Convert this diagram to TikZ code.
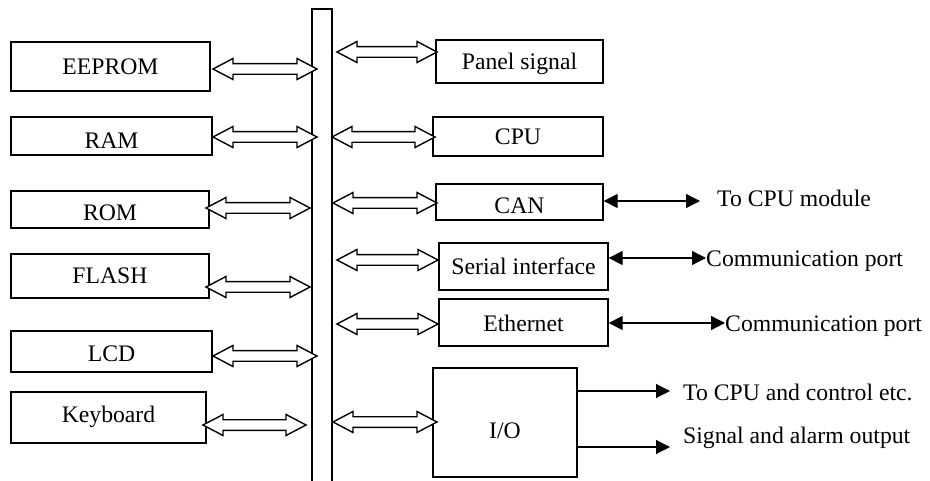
\documentclass[tikz,border=0pt]{standalone}
\usepackage{fontspec}
\setmainfont{Liberation Serif}
\usetikzlibrary{arrows.meta,calc}
\tikzset{
  txt/.style={font=\fontsize{23.7}{28}\selectfont, text height=15.7pt, text depth=0pt},
  box/.style={txt, draw, line width=1.3pt, inner sep=0pt},
  lbl/.style={txt, inner sep=0pt, anchor=west},
  hollow/.style={draw, fill=white, line width=1.4pt, line join=miter},
  sig/.style={line width=1.3pt, -{Triangle[length=14pt,width=14pt]}},
  sigboth/.style={line width=1.3pt, {Triangle[length=14pt,width=14pt]}-{Triangle[length=14pt,width=14pt]}},
  busline/.style={line width=1.8pt},
}
\newcommand\hollowarrow[2]{%
  \path[hollow] let \p1=(#1), \p2=(#2) in
    (\x1,\y1) -- (\x1+20pt,\y1+10.5pt) -- (\x1+20pt,\y1+5.3pt) -- (\x2-20pt,\y1+5.3pt)
    -- (\x2-20pt,\y1+10.5pt) -- (\x2,\y1) -- (\x2-20pt,\y1-10.5pt) -- (\x2-20pt,\y1-5.3pt)
    -- (\x1+20pt,\y1-5.3pt) -- (\x1+20pt,\y1-10.5pt) -- cycle;}
\begin{document}
\begin{tikzpicture}[x=1pt,y=-1pt]
\useasboundingbox (0,0) rectangle (930,481);

% bus
\coordinate (busBL) at (312,482);
\coordinate (busTL) at (312,9);
\coordinate (busTR) at (332,9);
\coordinate (busBR) at (332,482);
\draw[busline] (busBL) -- (busTL) -- (busTR) -- (busBR);

% left boxes
\node[box, minimum width=199pt, minimum height=49pt] (eeprom) at (110.5,66.5) {EEPROM};
\node[box, minimum width=201pt, minimum height=38pt] (ram) at (111.5,136) {\raisebox{-5pt}{RAM}};
\node[box, minimum width=198pt, minimum height=37pt] (rom) at (110,209.5) {\raisebox{-3pt}{ROM}};
\node[box, minimum width=198pt, minimum height=44pt] (flash) at (110,276) {FLASH};
\node[box, minimum width=201pt, minimum height=41pt] (lcd) at (111.5,351.5) {\raisebox{-2pt}{LCD}};
\node[box, minimum width=195pt, minimum height=51pt] (kbd) at (108.5,417.5) {\raisebox{3pt}{Keyboard}};

% right boxes
\node[box, minimum width=167pt, minimum height=43pt] (panel) at (519.5,61.5) {Panel signal};
\node[box, minimum width=170pt, minimum height=39pt] (cpu) at (518,136.5) {CPU};
\node[box, minimum width=167pt, minimum height=36pt] (can) at (519.5,202) {\raisebox{-4pt}{CAN}};
\node[box, minimum width=169pt, minimum height=47pt] (serial) at (523.5,266.5) {Serial interface};
\node[box, minimum width=169pt, minimum height=47pt] (eth) at (523.5,322.5) {\raisebox{-1pt}{Ethernet}};
\node[box, minimum width=144pt, minimum height=109pt] (io) at (505,422.5) {\raisebox{-8.5pt}{I/O}};

% hollow bus arrows, left side
\coordinate (h1a) at (213,69);  \coordinate (h1b) at (317,69);
\coordinate (h2a) at (213,137); \coordinate (h2b) at (317,137);
\coordinate (h3a) at (206,208); \coordinate (h3b) at (310,208);
\coordinate (h4a) at (206,287); \coordinate (h4b) at (310,287);
\coordinate (h5a) at (213,356); \coordinate (h5b) at (317,356);
\coordinate (h6a) at (203,425); \coordinate (h6b) at (306,425);
\hollowarrow{h1a}{h1b}
\hollowarrow{h2a}{h2b}
\hollowarrow{h3a}{h3b}
\hollowarrow{h4a}{h4b}
\hollowarrow{h5a}{h5b}
\hollowarrow{h6a}{h6b}

% hollow bus arrows, right side
\coordinate (r1a) at (337,52);  \coordinate (r1b) at (437,52);
\coordinate (r2a) at (332,137); \coordinate (r2b) at (435,137);
\coordinate (r3a) at (333,203); \coordinate (r3b) at (437,203);
\coordinate (r4a) at (337,260); \coordinate (r4b) at (438,260);
\coordinate (r5a) at (337,324); \coordinate (r5b) at (438,324);
\coordinate (r6a) at (333,422); \coordinate (r6b) at (437,422);
\hollowarrow{r1a}{r1b}
\hollowarrow{r2a}{r2b}
\hollowarrow{r3a}{r3b}
\hollowarrow{r4a}{r4b}
\hollowarrow{r5a}{r5b}
\hollowarrow{r6a}{r6b}

% external signals
\coordinate (canT) at (700,201);
\coordinate (serT) at (706,258);
\coordinate (ethT) at (725,323);
\coordinate (io1T) at (670,391);
\coordinate (io2T) at (670,447);
\draw[sigboth] (can.east |- canT) -- (canT);
\draw[sigboth] (serial.east |- serT) -- (serT);
\draw[sigboth] (eth.east |- ethT) -- (ethT);
\draw[sig] (io.east |- io1T) -- (io1T);
\draw[sig] (io.east |- io2T) -- (io2T);

\node[lbl] (lcan) at (717,198.5) {To CPU module};
\node[lbl] (lser) at (706,259) {Communication port};
\node[lbl] (leth) at (725,324) {Communication port};
\node[lbl] (lio1) at (683,392.5) {To CPU and control etc.};
\node[lbl] (lio2) at (683,435.5) {Signal and alarm output};
\end{tikzpicture}
\end{document}
